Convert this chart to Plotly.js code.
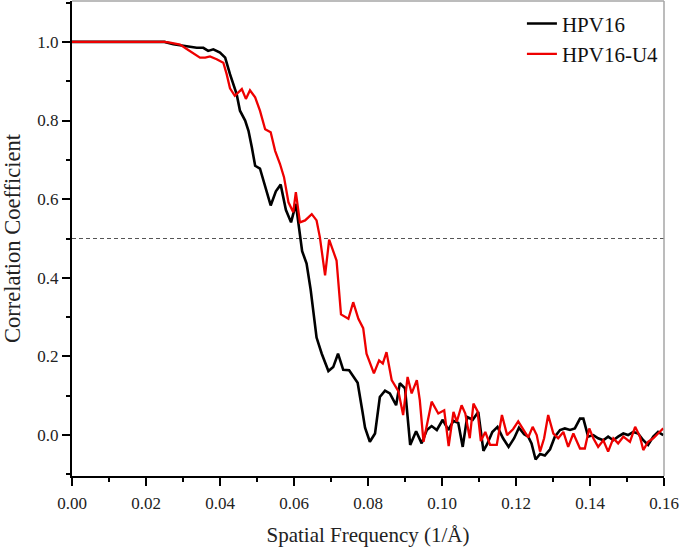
<!DOCTYPE html>
<html><head><meta charset="utf-8">
<script src="https://cdn.plot.ly/plotly-3.0.1.min.js"></script>
<style>html,body{margin:0;padding:0;background:#fff}#chart{width:680px;height:547px}</style>
</head><body><div id="chart"></div>
<script>
const seriesNames = ['HPV16', 'HPV16-U4'];
const hpv16X = [0,0.005,0.01,0.015,0.02,0.025,0.0274,0.0300,0.0319,0.0337,0.0355,0.0368,0.0382,0.0400,0.0414,0.0427,0.0445,0.0454,0.0468,0.0477,0.0486,0.0495,0.0508,0.0517,0.0537,0.0551,0.0564,0.0578,0.0592,0.0605,0.0616,0.0622,0.0634,0.0645,0.0661,0.0675,0.0693,0.0706,0.0719,0.0733,0.0749,0.0772,0.0785,0.0792,0.0805,0.0819,0.0832,0.0846,0.0859,0.0876,0.0886,0.0900,0.0914,0.0930,0.0945,0.0959,0.0972,0.0986,0.1002,0.1017,0.1031,0.1044,0.1056,0.1068,0.1083,0.1098,0.1112,0.1122,0.1136,0.1150,0.1165,0.1180,0.1195,0.1208,0.1222,0.1233,0.1242,0.1253,0.1265,0.1278,0.1292,0.1305,0.1319,0.1332,0.1346,0.1359,0.1373,0.1382,0.1395,0.1409,0.1422,0.1436,0.1449,0.1463,0.1476,0.1490,0.1503,0.1517,0.1530,0.1544,0.1557,0.1571,0.1584,0.1598];
const hpv16Y = [1,1,1,1,1,1,0.994,0.990,0.986,0.985,0.985,0.977,0.981,0.973,0.960,0.918,0.867,0.825,0.800,0.774,0.732,0.685,0.678,0.647,0.584,0.620,0.637,0.573,0.541,0.588,0.505,0.468,0.436,0.370,0.248,0.207,0.163,0.173,0.207,0.166,0.165,0.133,0.060,0.019,-0.017,0.004,0.097,0.113,0.106,0.076,0.132,0.119,-0.025,0.010,-0.021,0.013,0.023,0.013,0.039,0.013,0.036,0.031,-0.030,0.046,0.039,0.059,-0.040,-0.023,0.008,0.021,-0.008,-0.030,-0.008,0.019,0.002,-0.004,-0.021,-0.062,-0.048,-0.052,-0.036,-0.004,0.013,0.017,0.013,0.017,0.042,0.042,-0.004,0.000,-0.008,-0.013,-0.004,-0.013,-0.004,0.004,0.000,0.008,0.004,-0.013,-0.025,-0.004,0.008,0.000];
const u4X = [0,0.005,0.01,0.015,0.02,0.025,0.0265,0.0292,0.0310,0.0324,0.0346,0.0360,0.0373,0.0391,0.0409,0.0418,0.0427,0.0440,0.0459,0.0470,0.0481,0.0495,0.0508,0.0522,0.0537,0.0549,0.0562,0.0573,0.0585,0.0598,0.0605,0.0616,0.0630,0.0648,0.0661,0.0670,0.0684,0.0695,0.0706,0.0715,0.0727,0.0747,0.0760,0.0774,0.0787,0.0796,0.0816,0.0830,0.0840,0.0850,0.0864,0.0882,0.0895,0.0907,0.0918,0.0932,0.0940,0.0950,0.0972,0.0990,0.1006,0.1018,0.1031,0.1040,0.1053,0.1063,0.1075,0.1085,0.1096,0.1105,0.1117,0.1130,0.1148,0.1162,0.1176,0.1192,0.1206,0.1220,0.1233,0.1245,0.1256,0.1265,0.1276,0.1287,0.1301,0.1314,0.1328,0.1341,0.1355,0.1373,0.1386,0.1398,0.1409,0.1422,0.1436,0.1449,0.1463,0.1476,0.1490,0.1508,0.1522,0.1535,0.1544,0.1557,0.1571,0.1584,0.1598];
const u4Y = [1,1,1,1,1,1,0.998,0.993,0.982,0.973,0.960,0.960,0.963,0.956,0.947,0.918,0.882,0.863,0.880,0.855,0.877,0.859,0.825,0.778,0.770,0.723,0.690,0.656,0.592,0.567,0.618,0.541,0.546,0.562,0.546,0.503,0.406,0.497,0.465,0.444,0.307,0.296,0.338,0.296,0.272,0.207,0.157,0.190,0.182,0.211,0.140,0.112,0.051,0.148,0.106,0.140,0.089,-0.017,0.085,0.055,0.063,-0.028,0.059,0.034,0.076,0.055,-0.008,0.080,0.061,-0.015,0.008,-0.025,-0.025,0.051,0.000,0.015,0.035,0.013,-0.006,0.021,0.000,-0.042,-0.008,0.051,0.004,-0.008,0.008,-0.030,0.004,-0.034,-0.034,0.017,-0.008,-0.030,-0.013,-0.042,-0.008,-0.021,-0.004,-0.017,0.021,-0.004,-0.038,-0.017,-0.008,0.004,0.017];
const xTickVals = [0,0.02,0.04,0.06,0.08,0.10,0.12,0.14,0.16];
const yTickVals = [0,0.2,0.4,0.6,0.8,1.0];
const thresholdY = 0.5;

const FONT = 'Liberation Serif, Times New Roman, serif';

const traces = [
  {x: hpv16X, y: hpv16Y, type: 'scatter', mode: 'lines', name: seriesNames[0],
   line: {color: '#000000', width: 2.6}},
  {x: u4X, y: u4Y, type: 'scatter', mode: 'lines', name: seriesNames[1],
   line: {color: '#ee0000', width: 2.3}}
];

const layout = {
  width: 680, height: 547,
  margin: {l: 72, r: 16, t: 1, b: 71},
  paper_bgcolor: '#ffffff', plot_bgcolor: '#ffffff',
  font: {family: FONT, color: '#222222'},
  showlegend: true,
  legend: {x: 0.76, y: 0.995, xanchor: 'left', yanchor: 'top', bgcolor: 'rgba(0,0,0,0)',
    font: {family: FONT, size: 21, color: '#111'}, tracegroupgap: 0},
  xaxis: {
    range: [0, 0.16], tickvals: xTickVals, tickformat: '.2f',
    ticks: 'outside', ticklen: 8, tickwidth: 2, tickcolor: '#000',
    minor: {dtick: 0.01, tick0: 0, ticks: 'outside', ticklen: 4, tickwidth: 2, tickcolor: '#000'},
    showline: true, linecolor: '#000', linewidth: 2, mirror: false,
    showgrid: false, zeroline: false, automargin: false, ticklabelstandoff: 3,
    tickfont: {family: FONT, size: 17, color: '#222'},
    title: {text: 'Spatial Frequency (1/Å)', font: {family: FONT, size: 21, color: '#222'}, standoff: 17}
  },
  yaxis: {
    range: [-0.104, 1.104], tickvals: yTickVals, tickformat: '.1f',
    ticks: 'outside', ticklen: 8, tickwidth: 2, tickcolor: '#000',
    minor: {dtick: 0.1, tick0: 0, ticks: 'outside', ticklen: 4, tickwidth: 2, tickcolor: '#000'},
    showline: true, linecolor: '#000', linewidth: 2, mirror: false,
    showgrid: false, zeroline: false, automargin: false,
    tickfont: {family: FONT, size: 17, color: '#222'},
    title: {text: 'Correlation Coefficient', font: {family: FONT, size: 22.5, color: '#222'}, standoff: 19}
  },
  shapes: [
    {type: 'line', xref: 'paper', yref: 'y', x0: 0, x1: 1, y0: thresholdY, y1: thresholdY,
     line: {color: '#555555', width: 1, dash: '4px,3px'}, layer: 'below'},
    {type: 'line', xref: 'paper', yref: 'paper', x0: 0, x1: 1, y0: 1, y1: 1,
     line: {color: '#a6a6a6', width: 1.5}},
    {type: 'line', xref: 'paper', yref: 'paper', x0: 1, x1: 1, y0: 0, y1: 1,
     line: {color: '#a6a6a6', width: 1.5}}
  ]
};

Plotly.newPlot('chart', traces, layout, {displayModeBar: false, staticPlot: true});
</script>
</body></html>
